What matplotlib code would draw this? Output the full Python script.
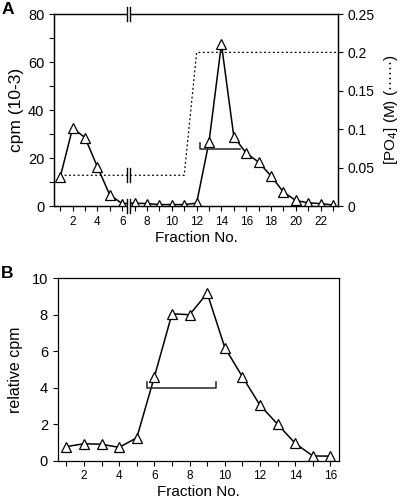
import numpy as np
import matplotlib.pyplot as plt
from matplotlib.ticker import MultipleLocator

plt.rcParams['font.family'] = ['Liberation Sans', 'DejaVu Sans']

# Panel A data
frac_a = list(range(1, 24))
cpm_a = [12, 32.5, 28.5, 16.3, 4.6, 1.0, 1.2, 1.0, 0.6, 0.6, 0.6, 1.2,
         26.7, 67.5, 28.9, 22.0, 18.3, 12.5, 5.8, 2.3, 1.3, 1.0, 0.4]
po4_x = [1, 11, 12, 23.4]
po4_y = [0.04, 0.04, 0.2, 0.2]
bracket_a = (12.3, 15.5, 23.7)

# Panel B data
frac_b = list(range(1, 17))
cpm_b = [0.77, 0.93, 0.9, 0.73, 1.26, 4.6, 8.05, 8.0, 9.18, 6.2,
         4.6, 3.04, 2.0, 0.95, 0.26, 0.25]
bracket_b = (5.6, 9.5, 4.0)

fig = plt.figure(figsize=(4, 5), dpi=100)

line_kw = dict(color='black', lw=1.1, marker='^', markersize=6.5,
               markerfacecolor='white', markeredgecolor='black',
               markeredgewidth=0.9)


def style_axis(ax):
    for s in ax.spines.values():
        s.set_linewidth(0.9)
    ax.tick_params(which='both', direction='out', width=0.8, length=3.5)


def break_mark(x, y, trans, h=7):
    # two short vertical lines with a white gap between them
    xp, yp = trans.transform((x, y))
    inv = fig.transFigure.inverted()
    for dx in (-1.8, 1.8):
        p0 = inv.transform((xp + dx, yp - h))
        p1 = inv.transform((xp + dx, yp + h))
        fig.add_artist(plt.Line2D([p0[0], p1[0]], [p0[1], p1[1]],
                                  color='black', lw=1.0, zorder=20))
    g0 = inv.transform((xp - 1.2, yp - h + 1))
    g1 = inv.transform((xp + 1.2, yp + h - 1))
    fig.add_artist(plt.Rectangle(g0, g1[0] - g0[0], g1[1] - g0[1],
                                 facecolor='white', edgecolor='none',
                                 zorder=19))


# ---- Panel A ----
axA = fig.add_axes([0.135, 0.588, 0.71, 0.384])
axA2 = axA.twinx()
axA2.plot(po4_x, po4_y, color='black', lw=0.9, ls=(0, (1.5, 2)))
axA2.set_ylim(0, 0.25)
axA2.set_yticks([0, 0.05, 0.1, 0.15, 0.2, 0.25])
axA2.set_yticklabels(['0', '0.05', '0.1', '0.15', '0.2', '0.25'], fontsize=10)
axA2.set_ylabel('[PO$_4$] (M) (\u00b7\u00b7\u00b7\u00b7\u00b7\u00b7)', fontsize=11, labelpad=5)
style_axis(axA2)

axA.set_zorder(axA2.get_zorder() + 1)
axA.patch.set_visible(False)
axA.plot(frac_a, cpm_a, **line_kw)
axA.plot([bracket_a[0], bracket_a[0], bracket_a[1]],
         [bracket_a[2] + 2.5, bracket_a[2], bracket_a[2]], color='#333333', lw=1.2)
axA.set_xlim(0.5, 23.4)
axA.set_ylim(0, 80)
axA.xaxis.set_major_locator(MultipleLocator(2))
axA.xaxis.set_minor_locator(MultipleLocator(1))
axA.yaxis.set_major_locator(MultipleLocator(20))
axA.yaxis.set_minor_locator(MultipleLocator(10))
axA.tick_params(axis='x', labelsize=8.5)
axA.tick_params(axis='y', labelsize=10.5)
axA.set_xlabel('Fraction No.', fontsize=11, labelpad=2)
axA.set_ylabel('cpm (10-3)', fontsize=12.5, labelpad=3)
style_axis(axA)
fig.text(0.005, 0.995, 'A', fontsize=12.5, fontweight='bold', va='top', ha='left')

# ---- Panel B ----
axB = fig.add_axes([0.144, 0.0786, 0.704, 0.365])
axB.plot(frac_b, cpm_b, **line_kw)
axB.plot([bracket_b[0], bracket_b[0], bracket_b[1], bracket_b[1]],
         [bracket_b[2] + 0.3, bracket_b[2], bracket_b[2], bracket_b[2] + 0.3],
         color='#333333', lw=1.2)
axB.set_xlim(0.5, 16.5)
axB.set_ylim(0, 10)
axB.xaxis.set_major_locator(MultipleLocator(2))
axB.xaxis.set_minor_locator(MultipleLocator(1))
axB.yaxis.set_major_locator(MultipleLocator(2))
axB.tick_params(axis='x', labelsize=8.5)
axB.tick_params(axis='y', labelsize=10.5)
axB.set_xlabel('Fraction No.', fontsize=11, labelpad=2)
axB.set_ylabel('relative cpm', fontsize=11.5, labelpad=6)
style_axis(axB)
fig.text(0.003, 0.467, 'B', fontsize=12.5, fontweight='bold', va='top', ha='left')

# break marks on panel A at fraction 6.5
fig.canvas.draw()
tA = axA.get_xaxis_transform()
break_mark(6.5, 1.0, tA)
break_mark(6.5, 0.0, tA)
break_mark(6.5, 0.04, axA2.transData)

fig.savefig('out.png', dpi=100)
